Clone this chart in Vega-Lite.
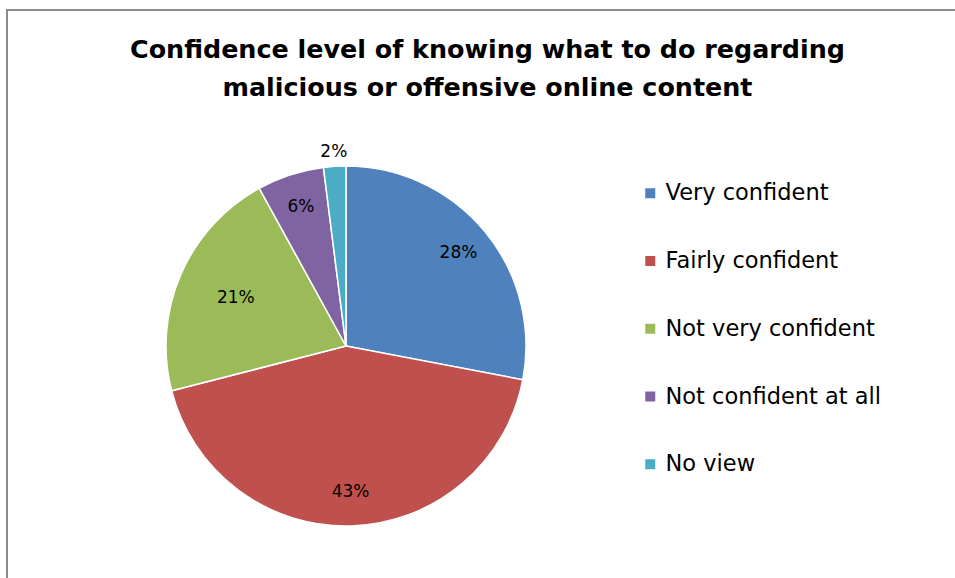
{
  "$schema": "https://vega.github.io/schema/vega-lite/v6.json",
  "width": 951,
  "height": 571,
  "autosize": {"type": "none"},
  "padding": {"left": 7, "top": 10, "right": -3, "bottom": -3},
  "background": "white",
  "view": {"stroke": "#8c8c8c", "strokeWidth": 2, "fill": "white"},
  "config": {
    "view": {"stroke": "#8c8c8c", "strokeWidth": 2},
    "font": "DejaVu Sans"
  },
  "title": {
    "text": ["Confidence level of knowing what to do regarding", "malicious or offensive online content"],
    "orient": "top",
    "anchor": "middle",
    "offset": -91,
    "dx": 5,
    "font": "DejaVu Sans",
    "fontSize": 25.4,
    "fontWeight": "bold",
    "color": "#000000",
    "lineHeight": 38
  },
  "data": {
    "values": [
      {"label": "Very confident", "value": 0.28, "order": 1},
      {"label": "Fairly confident", "value": 0.43, "order": 2},
      {"label": "Not very confident", "value": 0.21, "order": 3},
      {"label": "Not confident at all", "value": 0.06, "order": 4},
      {"label": "No view", "value": 0.02, "order": 5}
    ]
  },
  "encoding": {
    "theta": {"field": "value", "type": "quantitative", "stack": true},
    "order": {"field": "order", "type": "quantitative"},
    "color": {
      "field": "label",
      "type": "nominal",
      "sort": ["Very confident", "Fairly confident", "Not very confident", "Not confident at all", "No view"],
      "scale": {
        "domain": ["Very confident", "Fairly confident", "Not very confident", "Not confident at all", "No view"],
        "range": ["#4F81BD", "#C0504D", "#9BBB59", "#8064A2", "#4BACC6"]
      },
      "legend": {
        "title": null,
        "orient": "none",
        "legendX": 632,
        "legendY": 172,
        "symbolType": "square",
        "symbolSize": 100,
        "symbolStrokeWidth": 0,
        "labelFont": "DejaVu Sans",
        "labelFontSize": 22.5,
        "labelColor": "#000000",
        "labelOffset": 4,
        "rowPadding": 44.75,
        "labelLimit": 400
      }
    }
  },
  "layer": [
    {
      "mark": {"type": "arc", "outerRadius": 180, "stroke": "white", "strokeWidth": 1.5, "x": 339, "y": 336}
    },
    {
      "mark": {
        "type": "text",
        "radius": {"expr": "datum.value < 0.03 ? 194 : (datum.label == 'Not very confident' ? 120 : 146)"},
        "fontSize": 17,
        "font": "DejaVu Sans",
        "x": 339,
        "y": 336,
        "baseline": "middle",
        "align": "center"
      },
      "encoding": {
        "text": {"field": "value", "type": "quantitative", "format": ".0%"},
        "color": {"value": "#000000"}
      }
    }
  ]
}
